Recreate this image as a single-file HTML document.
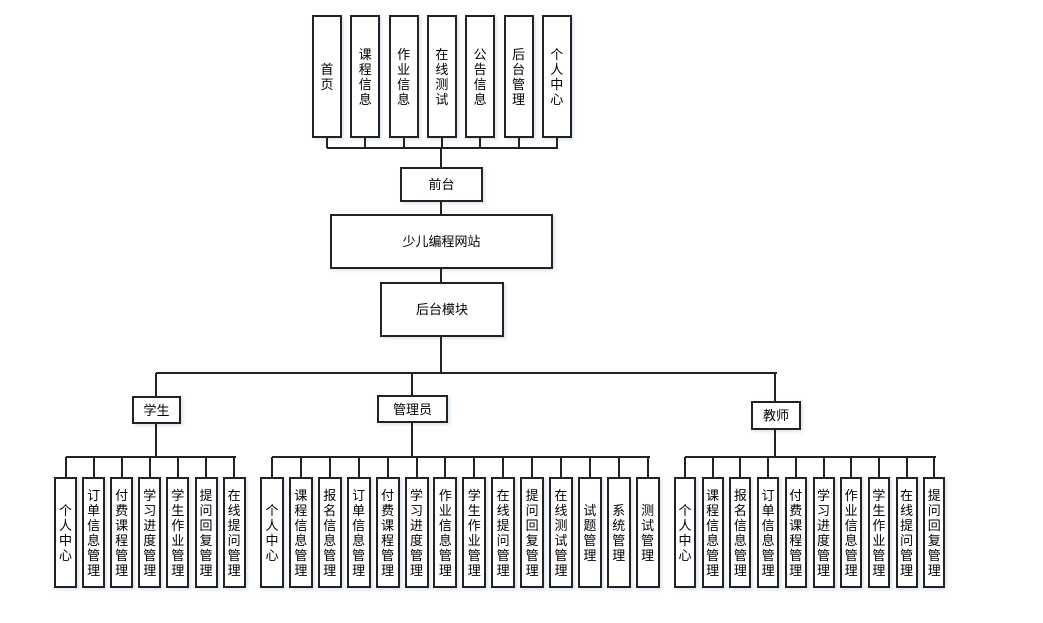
<!DOCTYPE html>
<html><head><meta charset="utf-8"><style>
body{margin:0;width:1043px;height:623px;background:#fff;position:relative;overflow:hidden;font-family:"Liberation Sans","Noto Sans CJK SC",sans-serif;font-size:13px;color:#000}
.b{position:absolute;border:2px solid #222;box-sizing:border-box;background:#fff;display:flex;align-items:center;justify-content:center;text-align:center;line-height:15px;box-shadow:2px 2px 3px rgba(120,150,200,0.25)}
.l{position:absolute;background:#222}
</style></head><body>
<div id="c"></div>
<script>
(function(){
var c=document.getElementById('c'),h='';
function box(x,y,w,hh,t){h+='<div class="b" style="left:'+x+'px;top:'+y+'px;width:'+w+'px;height:'+hh+'px">'+t+'</div>';}
function hl(x1,x2,y){h+='<div class="l" style="left:'+x1+'px;top:'+(y-1)+'px;width:'+(x2-x1+2)+'px;height:2px"></div>';}
function vl(x,y1,y2){h+='<div class="l" style="left:'+(x-1)+'px;top:'+y1+'px;width:2px;height:'+(y2-y1)+'px"></div>';}
function vt(s){return s.split('').join('<br>');}
var topL=['首页','课程信息','作业信息','在线测试','公告信息','后台管理','个人中心'];
for(var i=0;i<7;i++){var x=312+i*38.3;box(x,15,30,123,vt(topL[i]));vl(x+15,138,148);}
hl(327,556,148);
vl(441,148,167);
box(400,167,83,35,'前台');vl(441,202,214);
box(330,214,223,55,'少儿编程网站');vl(441,269,282);
box(380,282,124,55,'后台模块');vl(441,337,373);
hl(156,775,373);
vl(156,373,396);vl(412,373,395);vl(775,373,401);
box(132,396,49,28,'学生');box(377,395,71,28,'管理员');box(751,401,50,29,'教师');
vl(156,424,457);vl(412,423,457);vl(775,430,457);
function grp(labels,x0,sp,w){var n=labels.length;hl(x0+w/2,x0+(n-1)*sp+w/2,457);
for(var i=0;i<n;i++){var x=x0+i*sp;vl(x+w/2,457,477);box(x,477,w,111,vt(labels[i]));}}
grp(['个人中心','订单信息管理','付费课程管理','学习进度管理','学生作业管理','提问回复管理','在线提问管理'],54,28.1,23);
grp(['个人中心','课程信息管理','报名信息管理','订单信息管理','付费课程管理','学习进度管理','作业信息管理','学生作业管理','在线提问管理','提问回复管理','在线测试管理','试题管理','系统管理','测试管理'],260,28.9,24);
grp(['个人中心','课程信息管理','报名信息管理','订单信息管理','付费课程管理','学习进度管理','作业信息管理','学生作业管理','在线提问管理','提问回复管理'],674,27.7,22);
c.innerHTML=h;
})();
</script>
</body></html>
